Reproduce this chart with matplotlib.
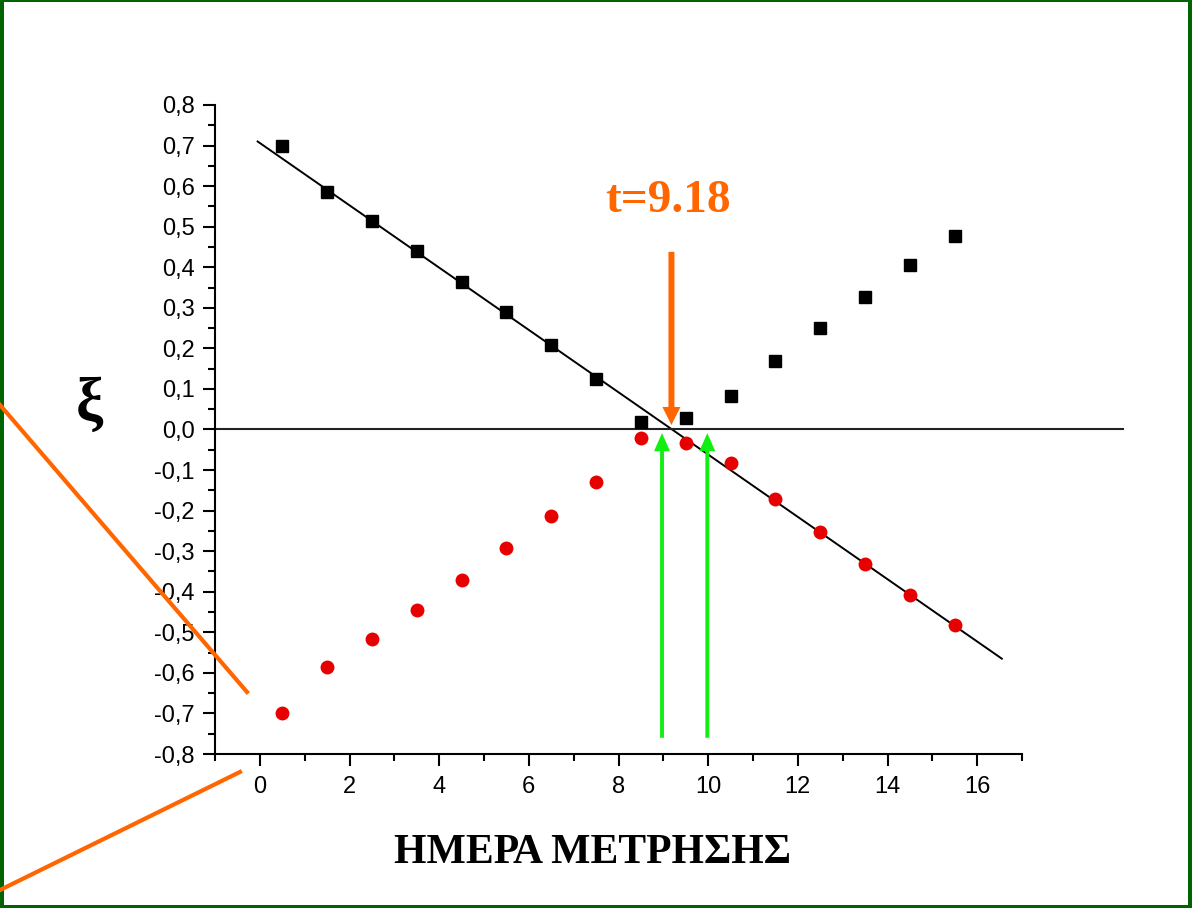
import matplotlib

matplotlib.use("Agg")
import matplotlib.pyplot as plt
from matplotlib.lines import Line2D
from matplotlib.patches import Rectangle
from matplotlib.ticker import FuncFormatter, MultipleLocator

days = [0.5, 1.5, 2.5, 3.5, 4.5, 5.5, 6.5, 7.5, 8.5, 9.5, 10.5, 11.5, 12.5, 13.5, 14.5, 15.5]
xi_black = [0.70, 0.585, 0.514, 0.44, 0.364, 0.29, 0.208, 0.125, 0.018, 0.028,
            0.083, 0.169, 0.25, 0.327, 0.405, 0.477]
xi_red = [-0.70, -0.586, -0.517, -0.445, -0.371, -0.292, -0.213, -0.129, -0.021, -0.033,
          -0.083, -0.171, -0.253, -0.332, -0.408, -0.482]

# fitted straight line (end points) and the crossing time
fit_x = [-0.05, 16.55]
fit_y = [0.71, -0.565]
t_cross = 9.18
green_x = [8.97, 9.98]

ORANGE = "#ff6600"
GREEN = "#11ee11"
BORDER = "#006400"

plt.rcParams["font.family"] = ["Liberation Sans", "DejaVu Sans"]
plt.rcParams["font.size"] = 17

fig = plt.figure(figsize=(11.92, 9.08), dpi=100)
ax = fig.add_axes([0.1804, 0.1696, 0.677, 0.7148])

ax.plot(fit_x, fit_y, color="black", lw=1.4, zorder=2)
ax.plot([-1, 19.25], [0, 0], color="#222222", lw=1.5, clip_on=False, zorder=2)
ax.plot(days, xi_black, ls="none", marker="s", ms=8, color="black", zorder=3)
ax.plot(days, xi_red, ls="none", marker="o", ms=10, color="#e60000", mec="none", zorder=3)

# arrows
ax.annotate("", xy=(t_cross, 0.011), xytext=(t_cross, 0.438),
            arrowprops=dict(width=4.3, headwidth=13, headlength=13, shrink=0,
                            color=ORANGE, lw=0))
for gx in green_x:
    ax.annotate("", xy=(gx, -0.009), xytext=(gx, -0.76),
                arrowprops=dict(width=2.8, headwidth=11.5, headlength=13, shrink=0,
                                color=GREEN, lw=0))
ax.text(9.11, 0.536, f"t={t_cross}", color=ORANGE, fontsize=34, fontweight="bold",
        family="Liberation Serif", ha="center", va="baseline")

ax.set_xlim(-1, 17)
ax.set_ylim(-0.8, 0.8)
ax.xaxis.set_major_locator(MultipleLocator(2))
ax.xaxis.set_minor_locator(MultipleLocator(1))
ax.yaxis.set_major_locator(MultipleLocator(0.1))
ax.yaxis.set_minor_locator(MultipleLocator(0.05))
ax.yaxis.set_major_formatter(FuncFormatter(lambda v, p: f"{v:.1f}".replace(".", ",").replace("-0,0", "0,0")))
for s in ("top", "right"):
    ax.spines[s].set_visible(False)
for s in ("left", "bottom"):
    ax.spines[s].set_linewidth(1.5)
ax.tick_params(which="major", direction="out", length=8.5, width=1.5, labelsize=17)
ax.tick_params(which="minor", direction="out", length=5, width=1.5)
ax.tick_params(axis="x", which="major", pad=7)
ax.tick_params(axis="y", which="major", pad=6)

fig.text(593 / 1192, 0.0496, "ΗΜΕΡΑ ΜΕΤΡΗΣΗΣ", fontsize=30, fontweight="bold",
         family="Liberation Serif", ha="center", va="baseline")
fig.text(89 / 1192, 0.554, "ξ", fontsize=44, fontweight="bold",
         family="Liberation Serif", ha="center", va="center")

# slide decorations: orange guide lines and green frame
fig.add_artist(Line2D([0, 0.2072], [0.554, 0.2379], color=ORANGE, lw=3))
fig.add_artist(Line2D([0.2013, 0], [0.1498, 0.0198], color=ORANGE, lw=3))
W, H = 1192, 908
for x0, y0, w, h in [(0, 0, 4 / W, 1), (1 - 4 / W, 0, 4 / W, 1),
                     (0, 1 - 1.5 / H, 1, 1.5 / H), (0, 0, 1, 3 / H)]:
    fig.add_artist(Rectangle((x0, y0), w, h, transform=fig.transFigure,
                             facecolor=BORDER, edgecolor="none"))

fig.savefig("out.png", dpi=100)
